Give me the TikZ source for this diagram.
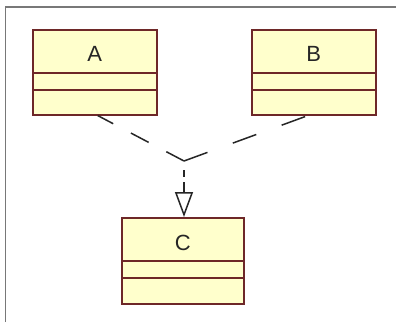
\documentclass[tikz,border=0pt]{standalone}
\usepackage{fontspec}
\setmainfont{Liberation Sans}
\usetikzlibrary{arrows.meta,calc}
\definecolor{boxfill}{RGB}{255,255,204}
\definecolor{boxline}{RGB}{110,40,40}
\definecolor{framegray}{RGB}{120,120,120}
\begin{document}
\begin{tikzpicture}[x=1pt,y=-1pt,
  classbox/.style={draw=boxline,fill=boxfill,line width=1.6pt,minimum width=124pt,minimum height=85pt,inner sep=0pt,anchor=north west},
  divider/.style={draw=boxline,line width=1.6pt},
  lbl/.style={font=\fontsize{22}{24}\selectfont,text=black!85},
  dep/.style={draw=black!85,line width=1.5pt}]
\useasboundingbox (0,0) rectangle (396,322);
\fill[white] (0,0) rectangle (396,322);
\draw[framegray,line width=1.5pt] (5.5,322) -- (5.5,7) -- (396,7);
% class boxes
\node[classbox] (A) at (32,29) {};
\node[classbox] (B) at (251,29) {};
\node[classbox,minimum width=122pt,minimum height=86pt] (C) at (121,217) {};
\foreach \n in {A,B,C}{
  \draw[divider] ($(\n.north west)+(0,44)$) -- ($(\n.north east)+(0,44)$);
  \draw[divider] ($(\n.north west)+(0,61)$) -- ($(\n.north east)+(0,61)$);
}
\node[lbl] (tA) at ($(A.north)+(0,25)$) {A};
\node[lbl] (tB) at ($(B.north)+(0,25)$) {B};
\node[lbl] (tC) at ($(C.north)+(0,26)$) {C};
% dependencies
\coordinate (J) at (184,161);
\draw[dep,dash pattern=on 20pt off 20pt] (J) -- ($(A.south)+(3,0)$);
\draw[dep,dash pattern=on 25pt off 27pt] (J) -- ($(B.south)+(-6,0)$);
\draw[dep,dash pattern=on 0pt off 9pt on 7pt off 5pt on 20pt,
  -{Triangle[open,length=25pt,width=18pt,line width=1.5pt]}] (J) -- (J |- C.north);
\end{tikzpicture}
\end{document}
